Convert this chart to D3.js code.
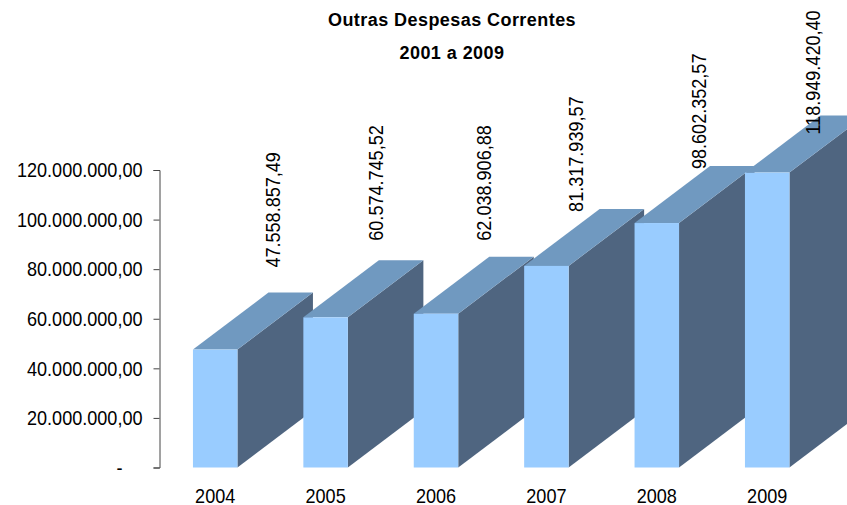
<!DOCTYPE html>
<html lang="pt-BR">
<head>
    <meta charset="UTF-8">
    <title>Outras Despesas Correntes</title>
    <script src="https://d3js.org/d3.v7.min.js"></script>
    <style>
        html, body { margin: 0; padding: 0; background: #fff; }
        svg { display: block; }
        text { font-family: "Liberation Sans", Arial, sans-serif; fill: #000; }
        .axis text, .year, .value { font-size: 21px; }
        .title { font-size: 18px; font-weight: bold; letter-spacing: 0.44px; }
    </style>
</head>
<body>
    <div id="chart"></div>
    <script>
        const years = ["2004", "2005", "2006", "2007", "2008", "2009"];
        const values = [47558857.49, 60574745.52, 62038906.88, 81317939.57, 98602352.57, 118949420.40];
        const valueLabels = ["47.558.857,49", "60.574.745,52", "62.038.906,88", "81.317.939,57", "98.602.352,57", "118.949.420,40"];
        const yTicks = [0, 20000000, 40000000, 60000000, 80000000, 100000000, 120000000];
        const titleLines = ["Outras Despesas Correntes", "2001 a 2009"];

        // os rotulos foram colocados a mao no original, por isso um ajuste para cada barra
        const labelGap = [82, 76.6, 73, 54, 54, 38];
        const labelShift = [57.5, 50, 48, 29, 42, 45.5];

        const width = 847, height = 505;
        const depthX = 75.5, depthY = 57;

        const x = d3.scaleBand()
            .domain(years)
            .range([160, 822.4])
            .paddingInner(0.597)
            .paddingOuter(0.2985);

        const y = d3.scaleLinear()
            .domain([0, 120000000])
            .range([467.5, 170]);

        // o texto do original e mais estreito que a fonte instalada
        function narrow(selection) {
            selection.each(function () {
                d3.select(this)
                    .attr("textLength", this.getComputedTextLength() * 0.86)
                    .attr("lengthAdjust", "spacingAndGlyphs");
            });
        }

        const svg = d3.select("#chart")
            .append("svg")
            .attr("width", width)
            .attr("height", height);

        svg.selectAll(".title")
            .data(titleLines)
            .enter()
            .append("text")
            .attr("class", "title")
            .attr("x", 452)
            .attr("y", (d, i) => 26 + i * 33)
            .attr("text-anchor", "middle")
            .text(d => d);

        // eixo y
        const yAxis = d3.axisLeft(y)
            .tickValues(yTicks)
            .tickSize(6)
            .tickPadding(11)
            .tickFormat(d => d === 0 ? "-" : d3.format(",.2f")(d).replace(/,/g, "#").replace(".", ",").replace(/#/g, "."));

        svg.append("g")
            .attr("class", "axis")
            .attr("transform", "translate(159.5,0)")
            .call(yAxis)
            .call(g => g.selectAll("path, line").attr("stroke", "#444"))
            .call(g => g.selectAll("text").call(narrow))
            .call(g => g.selectAll(".tick").filter(d => d === 0).select("text").attr("dx", -20));

        // rotulos dos anos
        svg.selectAll(".year")
            .data(years)
            .enter()
            .append("text")
            .attr("class", "year")
            .attr("x", d => x(d) + x.bandwidth() / 2)
            .attr("y", 502.5)
            .attr("text-anchor", "middle")
            .text(d => d)
            .call(narrow);

        const bars = svg.selectAll(".bar")
            .data(years.map((year, i) => ({ year, value: values[i], i })))
            .enter()
            .append("g")
            .attr("class", "bar");

        // face lateral
        bars.append("path")
            .attr("fill", "#4f6580")
            .attr("d", d => {
                const r = x(d.year) + x.bandwidth();
                return d3.line()([[r, y(d.value)], [r + depthX, y(d.value) - depthY], [r + depthX, y(0) - depthY], [r, y(0)]]) + "Z";
            });

        // topo
        bars.append("path")
            .attr("fill", "#7099c0")
            .attr("d", d => {
                const l = x(d.year), r = l + x.bandwidth(), t = y(d.value);
                return d3.line()([[l, t], [l + depthX, t - depthY], [r + depthX, t - depthY], [r, t]]) + "Z";
            });

        // frente
        bars.append("rect")
            .attr("fill", "#99ccff")
            .attr("x", d => x(d.year))
            .attr("y", d => y(d.value))
            .attr("width", x.bandwidth())
            .attr("height", d => y(0) - y(d.value));

        // rotulos de valor, por cima das barras
        svg.selectAll(".value")
            .data(valueLabels)
            .enter()
            .append("text")
            .attr("class", "value")
            .attr("transform", (d, i) => {
                const cx = x(years[i]) + x.bandwidth() / 2 + labelShift[i];
                const cy = y(values[i]) - labelGap[i];
                return `translate(${cx},${cy}) rotate(-90)`;
            })
            .attr("dy", "0.35em")
            .text(d => d)
            .call(narrow);
    </script>
</body>
</html>
